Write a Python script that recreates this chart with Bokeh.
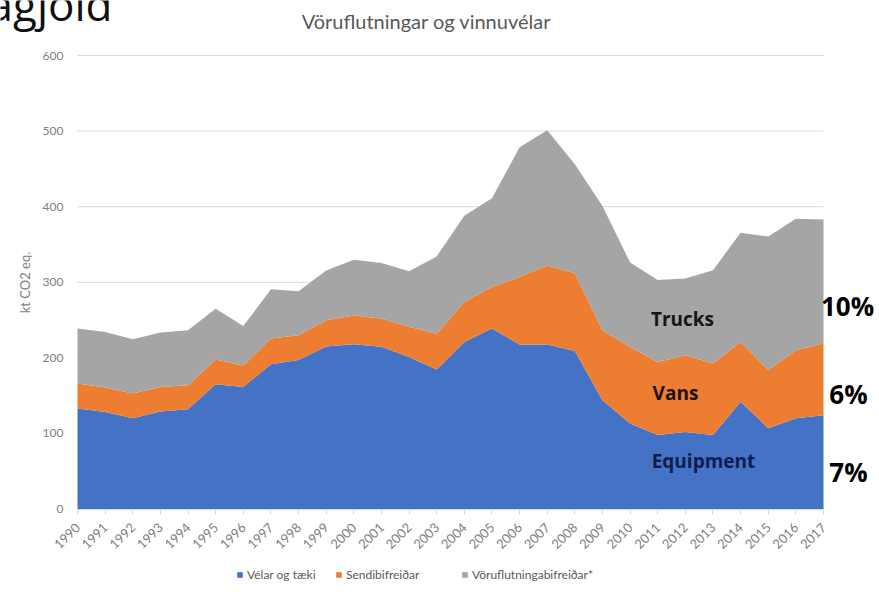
import math
from bokeh.plotting import figure
from bokeh.models import (ColumnDataSource, Range1d, FixedTicker, Label, Legend,
                          LegendItem)
from bokeh.embed import file_html
from bokeh.resources import INLINE

# ---- data (kt CO2 eq.) ----
years = list(range(1990, 2018))
equipment = [133, 128.5, 120, 129, 132, 165, 161.5, 191.5, 197, 215, 218, 214.5, 201, 184.5,
             221, 238.7, 217.5, 217.5, 209, 144, 113, 98, 102, 98, 142, 107, 120, 124]
vans = [33, 32.2, 32.8, 32.5, 31.8, 32.8, 28.5, 34, 32.8, 34.7, 38, 37.5, 40, 47.5,
        53, 54.9, 89.5, 104.5, 103, 92.5, 101.4, 96.6, 101.4, 94.5, 79, 76.6, 90, 95]
trucks = [72.7, 73.6, 71.8, 71.9, 72.7, 67.2, 52, 65.1, 58.2, 66, 73.8, 73.4, 73.4, 102.2,
          114, 117.4, 171.6, 179, 144, 164.5, 111.6, 108.4, 101.6, 123.5, 144.5, 177, 174, 164]
series_names = ["Vélar og tæki", "Sendibifreiðar", "Vöruflutningabifreiðar*"]
series_colors = ["#4472C4", "#ED7D31", "#A5A5A5"]
y_ticks = [0, 100, 200, 300, 400, 500, 600]
title_text = "Vöruflutningar og vinnuvélar"
y_title = "kt CO2 eq."
heading_text = "agjöld"
inner_labels = ["Equipment", "Vans", "Trucks"]
share_labels = ["7%", "6%", "10%"]

# ---- layout (pixels) ----
W, H = 879, 592
PX_LEFT, PX_RIGHT = 77, 823      # x pixel of first / last year
PX_TOP, PX_BOTTOM = 55, 508.5    # y pixel of y_ticks[-1] / y_ticks[0]
xs = (PX_RIGHT - PX_LEFT) / (years[-1] - years[0])
ys = (PX_BOTTOM - PX_TOP) / (y_ticks[-1] - y_ticks[0])
x_rng = Range1d(years[0] - PX_LEFT / xs, years[-1] + (W - PX_RIGHT) / xs)
y_rng = Range1d(y_ticks[0] - (H - PX_BOTTOM) / ys, y_ticks[-1] + PX_TOP / ys)

src = ColumnDataSource(dict(year=years, equip=equipment, vans=vans, trucks=trucks))

p = figure(width=W, height=H, output_backend="svg", toolbar_location=None,
           x_range=x_rng, y_range=y_rng,
           min_border_left=0, min_border_right=0, min_border_top=0, min_border_bottom=0)
p.outline_line_color = None
p.background_fill_color = "white"
p.xgrid.visible = False
p.ygrid.visible = False

# gridlines limited to the plotted years
p.segment(x0=[years[0]] * len(y_ticks), x1=[years[-1]] * len(y_ticks), y0=y_ticks, y1=y_ticks,
          line_color="#d9d9d9", line_width=1, level="underlay")

rs = p.varea_stack(["equip", "vans", "trucks"], x="year", color=series_colors, source=src)

FONT = "Lato"
GREY = "#808080"

xa = p.xaxis[0]
xa.fixed_location = 0
xa.bounds = (years[0], years[-1])
xa.ticker = FixedTicker(ticks=years)
xa.major_label_orientation = math.pi / 4
xa.axis_line_color = "#d9d9d9"
xa.major_tick_line_color = "#d9d9d9"
xa.major_tick_out = 5
xa.major_tick_in = 0
xa.minor_tick_line_color = None
xa.major_label_text_color = GREY
xa.major_label_text_font = FONT
xa.major_label_text_font_size = "13px"
xa.major_label_standoff = 11

ya = p.yaxis[0]
ya.fixed_location = years[0]
ya.bounds = (y_ticks[0], y_ticks[-1])
ya.ticker = FixedTicker(ticks=y_ticks)
ya.axis_line_color = None
ya.major_tick_line_color = None
ya.major_tick_out = 0
ya.major_tick_in = 0
ya.minor_tick_line_color = None
ya.major_label_text_color = GREY
ya.major_label_text_font = FONT
ya.major_label_text_font_size = "12px"
ya.major_label_standoff = 14
ya.axis_label = y_title
ya.axis_label_text_font = FONT
ya.axis_label_text_font_style = "normal"
ya.axis_label_text_font_size = "13px"
ya.axis_label_text_color = GREY
ya.axis_label_standoff = 7


def put(txt, x, y, size, color, font=FONT, bold=False, align="center", baseline="middle"):
    # x, y given as pixels from the top-left of the picture
    p.add_layout(Label(x=x, y=H - y, x_units="screen", y_units="screen", text=txt,
                       text_align=align, text_baseline=baseline, text_font=font,
                       text_font_style="bold" if bold else "normal",
                       text_font_size=size, text_color=color))


put(title_text, 426, 20, "20px", "#595959")
put(heading_text, 112, 3, "44px", "#111111", font="Open Sans", align="right",
    baseline="alphabetic")

for txt, (lx, ly, col) in zip(inner_labels, [(703, 460, "#0f1c4d"), (675, 392, "#1c1008"),
                                             (682, 318, "#151515")]):
    put(txt, lx, ly, "19px", col, font="Open Sans", bold=True)

for txt, (lx, ly) in zip(share_labels, [(848, 471), (848, 393), (847, 305)]):
    put(txt, lx, ly, "26px", "#000000", font="Open Sans", bold=True)

# one legend per series so each entry sits where the reference puts it
for n, r, lx in zip(series_names, rs, [236, 335, 461]):
    lg = Legend(items=[LegendItem(label=n, renderers=[r])], location=(lx, 10),
                orientation="horizontal", glyph_width=7, glyph_height=7, label_standoff=4,
                padding=0, margin=0, border_line_color=None, background_fill_alpha=0,
                label_text_font=FONT, label_text_font_size="12px",
                label_text_color="#595959", label_height=12)
    p.add_layout(lg)

open("out.html", "w").write(file_html(p, INLINE))
